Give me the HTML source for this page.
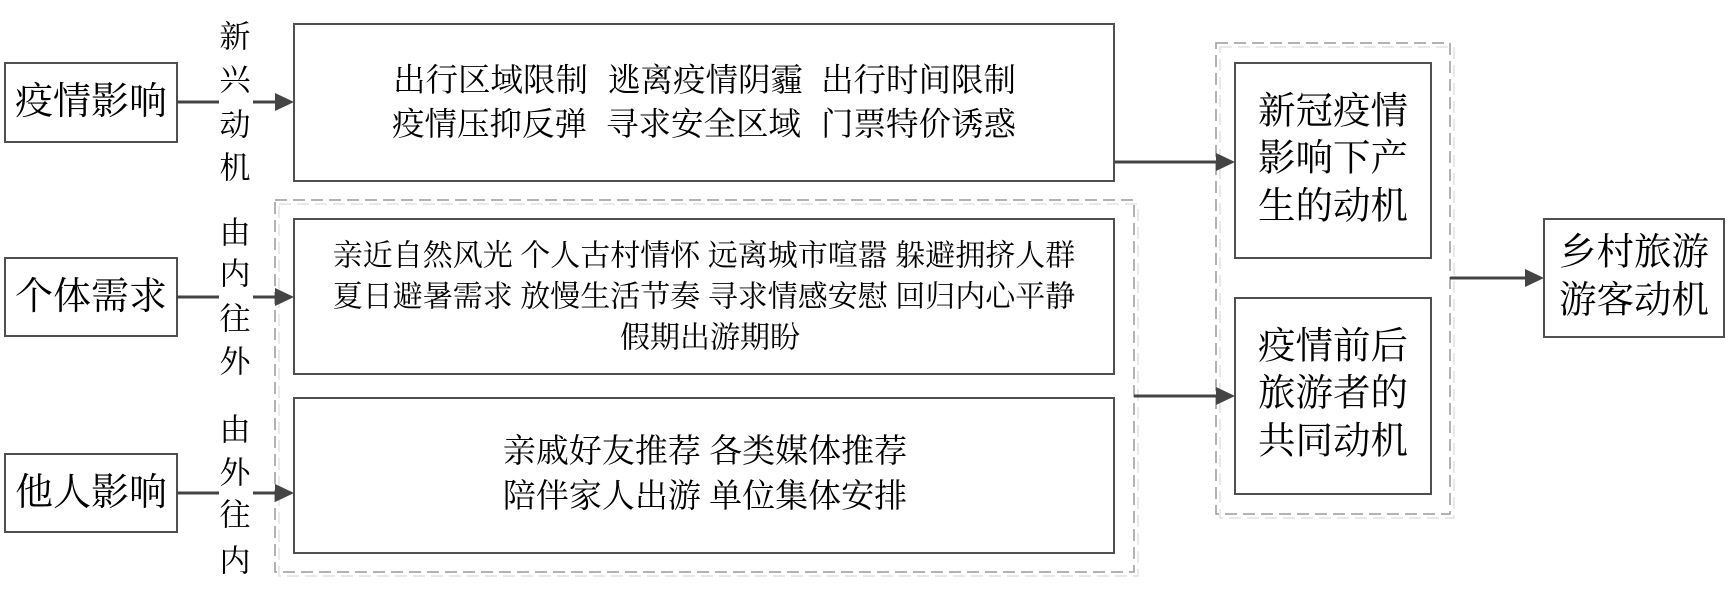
<!DOCTYPE html>
<html>
<head>
<meta charset="utf-8">
<style>
  html,body{margin:0;padding:0;background:#fff;}
  body{width:1733px;height:597px;overflow:hidden;}
  svg{display:block;}
  text{font-family:"Liberation Serif","Noto Serif CJK SC",serif;fill:#000;dominant-baseline:central;}
</style>
</head>
<body>
<svg width="1733" height="597" viewBox="0 0 1733 597" xmlns="http://www.w3.org/2000/svg">
  <rect x="0" y="0" width="1733" height="597" fill="#fff"/>

  <!-- dashed group boxes (shadow + main) -->
  <rect x="279" y="204" width="859" height="372" fill="none" stroke="#e2e2e2" stroke-width="1.5" stroke-dasharray="12 6"/>
  <rect x="275" y="200" width="859" height="372" fill="none" stroke="#9a9a9a" stroke-width="1.5" stroke-dasharray="12 6"/>
  <rect x="1220" y="47" width="234" height="471" fill="none" stroke="#e2e2e2" stroke-width="1.5" stroke-dasharray="12 6"/>
  <rect x="1216" y="43" width="234" height="471" fill="none" stroke="#9a9a9a" stroke-width="1.5" stroke-dasharray="12 6"/>

  <!-- boxes -->
  <g fill="#fff" stroke="#4f4f4f" stroke-width="2">
    <rect x="5" y="63" width="172" height="79"/>
    <rect x="5" y="258" width="172" height="78"/>
    <rect x="5" y="454" width="172" height="78"/>
    <rect x="294" y="24" width="820" height="157"/>
    <rect x="294" y="219" width="820" height="155"/>
    <rect x="294" y="398" width="820" height="155"/>
    <rect x="1235" y="63" width="196" height="195"/>
    <rect x="1235" y="298" width="196" height="196"/>
    <rect x="1544" y="219" width="180" height="118"/>
  </g>

  <!-- connectors -->
  <g stroke="#444" stroke-width="3" fill="none">
    <line x1="177" y1="102" x2="219" y2="102"/>
    <line x1="253" y1="102" x2="278" y2="102"/>
    <line x1="177" y1="297" x2="219" y2="297"/>
    <line x1="253" y1="297" x2="278" y2="297"/>
    <line x1="177" y1="493" x2="219" y2="493"/>
    <line x1="253" y1="493" x2="278" y2="493"/>
    <line x1="1115" y1="162" x2="1220" y2="162"/>
    <line x1="1134" y1="396" x2="1220" y2="396"/>
    <line x1="1450" y1="278" x2="1528" y2="278"/>
  </g>
  <g fill="#444" stroke="none">
    <polygon points="294,102 275,93 275,111"/>
    <polygon points="294,297 275,288 275,306"/>
    <polygon points="294,493 275,484 275,502"/>
    <polygon points="1235,162 1216,153 1216,171"/>
    <polygon points="1235,396 1216,387 1216,405"/>
    <polygon points="1544,278 1525,269 1525,287"/>
  </g>

  <!-- left box labels -->
  <g font-size="38" text-anchor="middle">
    <text x="91" y="102">疫情影响</text>
    <text x="91" y="297">个体需求</text>
    <text x="91" y="493">他人影响</text>
  </g>

  <!-- vertical connector labels -->
  <g font-size="31" text-anchor="middle">
    <text x="235" y="37">新</text>
    <text x="235" y="80">兴</text>
    <text x="235" y="125">动</text>
    <text x="235" y="168">机</text>

    <text x="235" y="233">由</text>
    <text x="235" y="274">内</text>
    <text x="235" y="319">往</text>
    <text x="235" y="362">外</text>

    <text x="235" y="430">由</text>
    <text x="235" y="473">外</text>
    <text x="235" y="515">往</text>
    <text x="235" y="561">内</text>
  </g>

  <!-- box 1 text -->
  <g font-size="32.5">
    <text x="393" y="81">出行区域限制</text>
    <text x="608" y="81">逃离疫情阴霾</text>
    <text x="821" y="81">出行时间限制</text>
    <text x="392" y="125">疫情压抑反弹</text>
    <text x="606" y="125">寻求安全区域</text>
    <text x="821" y="125">门票特价诱惑</text>
  </g>

  <!-- box 2 text -->
  <g font-size="30" text-anchor="middle">
    <text x="704" y="256">亲近自然风光 个人古村情怀 远离城市喧嚣 躲避拥挤人群</text>
    <text x="704" y="297">夏日避暑需求 放慢生活节奏 寻求情感安慰 回归内心平静</text>
    <text x="710" y="338">假期出游期盼</text>
  </g>

  <!-- box 3 text -->
  <g font-size="33" text-anchor="middle">
    <text x="705" y="452">亲戚好友推荐 各类媒体推荐</text>
    <text x="705" y="497">陪伴家人出游 单位集体安排</text>
  </g>

  <!-- right boxes text -->
  <g font-size="37.5" text-anchor="middle">
    <text x="1333" y="112">新冠疫情</text>
    <text x="1333" y="159">影响下产</text>
    <text x="1333" y="207">生的动机</text>

    <text x="1333" y="347">疫情前后</text>
    <text x="1333" y="394">旅游者的</text>
    <text x="1333" y="442">共同动机</text>

    <text x="1634" y="253">乡村旅游</text>
    <text x="1634" y="301">游客动机</text>
  </g>
</svg>
</body>
</html>
